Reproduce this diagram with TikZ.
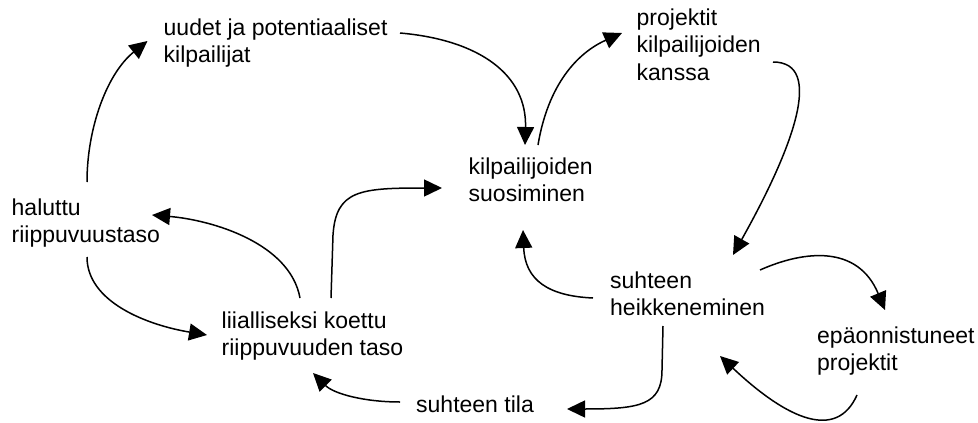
\documentclass[tikz,border=0pt]{standalone}
\usepackage{fontspec}
\setmainfont{Liberation Sans}
\usetikzlibrary{arrows.meta}
\begin{document}
\begin{tikzpicture}[x=1pt,y=-1pt,
  lbl/.style={anchor=base west, inner sep=0pt, align=left,
              font=\fontsize{23}{27.7}\selectfont},
  arr/.style={line width=1.5pt, -{Triangle[length=18pt,width=17pt]}}]
\useasboundingbox (0,0) rectangle (978,423);

% factors of the loop diagram (placed at the baseline of their last line)
\node[lbl] (uud)  at (163.5,62.7)  {uudet ja potentiaaliset\\kilpailijat};
\node[lbl] (proj) at (636.5,80.4)  {projektit\\kilpailijoiden\\kanssa};
\node[lbl] (kilp) at (468.5,201.7) {kilpailijoiden\\suosiminen};
\node[lbl] (halu) at (11.5,242.7)  {haluttu\\riippuvuustaso};
\node[lbl] (liia) at (221.5,355.7) {liialliseksi koettu\\riippuvuuden taso};
\node[lbl] (sh)   at (610,315.7)   {suhteen\\heikkeneminen};
\node[lbl] (epa)  at (817,370.7)   {epäonnistuneet\\projektit};
\node[lbl] (tila) at (416,412)     {suhteen tila};

% causal links
\draw[arr] ([shift={(75.5,-60.7)}]halu.base west)
  .. controls +(0,-55) and +(-40,32) .. ([shift={(-16,-21.7)}]uud.base west);
\draw[arr] ([shift={(236.5,-29.7)}]uud.base west)
  .. controls +(80,7) and +(2,-70) .. ([shift={(56.5,-56.7)}]kilp.base west);
\draw[arr] ([shift={(69.5,-56.7)}]kilp.base west)
  .. controls +(10,-60) and +(-45,20) .. ([shift={(-14.5,-47.4)}]proj.base west);
\draw[arr] ([shift={(136.5,-18.4)}]proj.base west)
  .. controls +(52,0) and +(60,-107) .. ([shift={(123,-60.7)}]sh.base west);
\draw[arr] ([shift={(-17,-17.7)}]sh.base west)
  .. controls +(-45,-2) and +(2,50) .. ([shift={(54.5,28.3)}]kilp.base west);
\draw[arr] ([shift={(150,-45.7)}]sh.base west)
  .. controls +(45,-20) and +(-27,-65) .. ([shift={(68,-60.7)}]epa.base west);
\draw[arr] ([shift={(40,24.3)}]epa.base west)
  .. controls +(-20,45) and +(69,65) .. ([shift={(110,40.3)}]sh.base west);
\draw[arr] ([shift={(53,10.3)}]sh.base west) -- +(-1,44)
  .. controls +(0,35) and +(73,0) .. ([shift={(151,-3)}]tila.base west);
\draw[arr] ([shift={(-16,-10)}]tila.base west)
  .. controls +(-35,0) and +(21,21) .. ([shift={(91.5,17.3)}]liia.base west);
\draw[arr] ([shift={(78.5,-57.7)}]liia.base west)
  .. controls +(-10,-55) and +(60,5) .. ([shift={(140.5,-27.7)}]halu.base west);
\draw[arr] ([shift={(75.5,14.3)}]halu.base west)
  .. controls +(0,45) and +(-60,-10) .. ([shift={(-14.5,-20.7)}]liia.base west);
\draw[arr] ([shift={(109.5,-57.7)}]liia.base west) -- +(2,-63)
  .. controls +(3,-45) and +(-82,0) .. ([shift={(-26.5,-13.7)}]kilp.base west);
\end{tikzpicture}
\end{document}
